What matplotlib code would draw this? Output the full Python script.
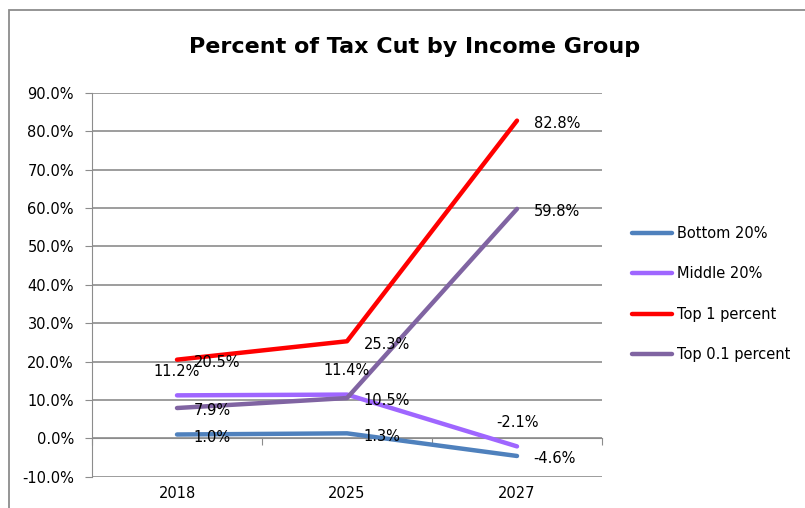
import matplotlib.pyplot as plt
from matplotlib.patches import Rectangle

# values
years = ["2018", "2025", "2027"]
series_names = ["Bottom 20%", "Middle 20%", "Top 1 percent", "Top 0.1 percent"]
bottom_20 = [1.0, 1.3, -4.6]
middle_20 = [11.2, 11.4, -2.1]
top_1 = [20.5, 25.3, 82.8]
top_01 = [7.9, 10.5, 59.8]
colors = ["#4F81BD", "#9F66FF", "#FF0000", "#8064A2"]
label_pos = ["right", "above", "right", "right"]

plt.rcParams['font.family'] = 'DejaVu Sans'
grey = "#8c8c8c"
fs = 10.5

fig = plt.figure(figsize=(8.05, 5.08), dpi=100)
# outer chart frame like the spreadsheet chart area (runs off the right and bottom)
fig.patches.append(Rectangle((9 / 805, -0.3), 1.5, 1.3 - 10 / 508, transform=fig.transFigure,
                             fill=False, edgecolor=grey, lw=1.3))

ax = fig.add_axes([92 / 805, 1 - 476.7 / 508, 510 / 805, 383.7 / 508])
x = list(range(len(years)))

for name, vals, col, pos in zip(series_names, [bottom_20, middle_20, top_1, top_01], colors, label_pos):
    ax.plot(x, vals, color=col, lw=3.2, label=name, solid_capstyle='round', zorder=3)
    for xi, v in zip(x, vals):
        if pos == "right":
            ax.annotate(f"{v:.1f}%", (xi, v), xytext=(12, -2), textcoords='offset points',
                        ha='left', va='center', fontsize=fs, zorder=4)
        else:
            ax.annotate(f"{v:.1f}%", (xi, v), xytext=(0, 17), textcoords='offset points',
                        ha='center', va='center', fontsize=fs, zorder=4)

ax.set_xlim(-0.5, 2.5)
ax.set_ylim(-10, 90)
ax.set_yticks(range(-10, 91, 10))
ax.set_yticklabels([f"{t:.1f}%" for t in range(-10, 91, 10)], fontsize=fs)
ax.yaxis.grid(True, color=grey, lw=1.2)
ax.set_axisbelow(True)
ax.tick_params(axis='y', length=5, color=grey, pad=8)

for s in ["top", "right"]:
    ax.spines[s].set_visible(False)
ax.spines["left"].set_color(grey)
ax.spines["bottom"].set_color(grey)
ax.spines["bottom"].set_position(('data', 0))

# category axis sits at zero, labels at the bottom
ax.set_xticks([-0.5, 0.5, 1.5, 2.5])
ax.set_xticklabels([])
ax.tick_params(axis='x', length=5, color=grey, direction='out')
for xi, yr in zip(x, years):
    ax.text(xi, -0.045, yr, transform=ax.get_xaxis_transform(), ha='center', va='center', fontsize=fs)

fig.text(415 / 805, 1 - 47 / 508, "Percent of Tax Cut by Income Group", ha='center', va='center',
         fontsize=16, fontweight='bold')

fig.legend(loc='center left', bbox_to_anchor=(619 / 805, 1 - 294 / 508), frameon=False, fontsize=fs,
           handlelength=2.7, handletextpad=0.35, labelspacing=1.75)

fig.savefig("out.png", dpi=100)
